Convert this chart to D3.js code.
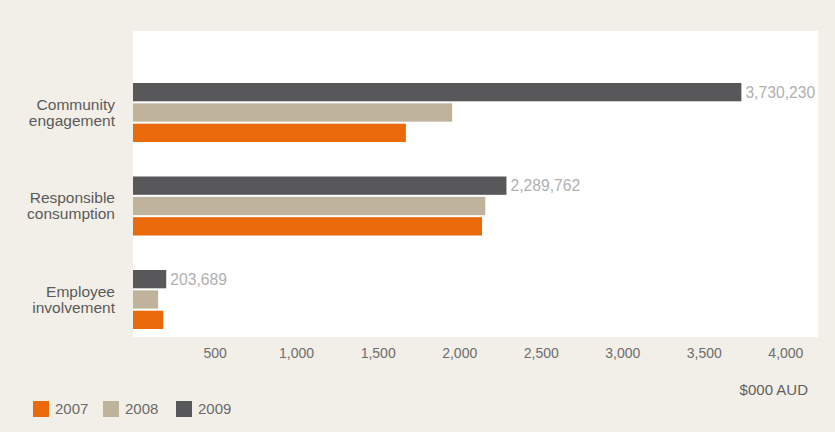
<!DOCTYPE html>
<html>
<head>
<meta charset="utf-8">
<script src="https://cdn.jsdelivr.net/npm/d3@7"></script>
<style>
  html, body { margin: 0; padding: 0; background: #f2efe8; }
  svg { display: block; }
  text { font-family: "Liberation Sans", Arial, Helvetica, sans-serif; }
</style>
</head>
<body>
<svg id="chart" width="835" height="432"></svg>
<script>
// Spending by program area, $000 AUD
const categories = [
  ["Community", "engagement"],
  ["Responsible", "consumption"],
  ["Employee", "involvement"]
];
const categoryKeys = ["community", "responsible", "employee"];
const years = ["2009", "2008", "2007"];
const legendYears = ["2007", "2008", "2009"];
const values2009 = [3730.230, 2289.762, 203.689];
const values2008 = [1957, 2160, 154];
const values2007 = [1673, 2140, 185];
const valueLabels2009 = ["3,730,230", "2,289,762", "203,689"];
const tickValues = [500, 1000, 1500, 2000, 2500, 3000, 3500, 4000];
const unitLabel = "$000 AUD";

const colors = { "2007": "#ea690b", "2008": "#bfb39c", "2009": "#58585a" };
const seriesByYear = { "2009": values2009, "2008": values2008, "2007": values2007 };

const svg = d3.select("#chart");
const plot = { left: 133, right: 818, top: 31, bottom: 337 };

svg.append("rect")
  .attr("width", 835).attr("height", 432)
  .attr("fill", "#f2efe8");

svg.append("rect")
  .attr("x", plot.left).attr("y", plot.top)
  .attr("width", plot.right - plot.left)
  .attr("height", plot.bottom - plot.top)
  .attr("fill", "#ffffff");

const x = d3.scaleLinear()
  .domain([0, 4200])
  .range([plot.left, plot.right]);

const y = d3.scaleBand()
  .domain(categoryKeys)
  .range([65.75, 346.25])
  .paddingInner(0.369)
  .paddingOuter(0.1845);

const yInner = d3.scaleBand()
  .domain(years)
  .range([0, y.bandwidth()])
  .paddingInner(0.1);

const groups = svg.append("g").selectAll("g")
  .data(categoryKeys)
  .join("g")
  .attr("transform", d => `translate(0,${y(d)})`);

groups.selectAll("rect")
  .data((d, i) => years.map(yr => ({ year: yr, value: seriesByYear[yr][i] })))
  .join("rect")
  .attr("x", x(0))
  .attr("y", d => yInner(d.year))
  .attr("width", d => x(d.value) - x(0))
  .attr("height", yInner.bandwidth())
  .attr("fill", d => colors[d.year]);

// value labels on the 2009 bars
groups.append("text")
  .attr("x", (d, i) => x(values2009[i]) + 4)
  .attr("y", yInner("2009") + yInner.bandwidth() / 2)
  .attr("dy", "0.35em")
  .attr("font-size", "15.7px")
  .attr("fill", "#b0b0b0")
  .text((d, i) => valueLabels2009[i]);

// category labels
const catLabels = svg.append("g").selectAll("text")
  .data(categoryKeys)
  .join("text")
  .attr("text-anchor", "end")
  .attr("font-size", "15.5px")
  .attr("fill", "#5a5a5a")
  .attr("transform", d => `translate(115,${y(d) + y.bandwidth() / 2})`);

catLabels.each(function(d, i) {
  const t = d3.select(this);
  categories[i].forEach((line, j) => {
    t.append("tspan")
      .attr("x", 0)
      .attr("y", (j - 0.5) * 16)
      .attr("dy", "0.35em")
      .text(line);
  });
});

// x axis labels
const xAxis = d3.axisBottom(x)
  .tickValues(tickValues)
  .tickFormat(d3.format(","))
  .tickSize(0)
  .tickPadding(0);

const axisG = svg.append("g")
  .attr("transform", `translate(0,348)`)
  .call(xAxis);
axisG.select(".domain").remove();
axisG.selectAll("text")
  .attr("font-family", "\"Liberation Sans\", Arial, sans-serif")
  .attr("font-size", "14px")
  .attr("fill", "#6d6d6d");

svg.append("text")
  .attr("x", 808).attr("y", 395)
  .attr("text-anchor", "end")
  .attr("font-size", "15px")
  .attr("fill", "#5f5f5f")
  .text(unitLabel);

// legend
const legendX = [33, 103, 176];
const legend = svg.append("g").selectAll("g")
  .data(legendYears)
  .join("g")
  .attr("transform", (d, i) => `translate(${legendX[i]},401)`);

legend.append("rect")
  .attr("width", 16).attr("height", 16)
  .attr("fill", d => colors[d]);

legend.append("text")
  .attr("x", 22).attr("y", 8)
  .attr("dy", "0.35em")
  .attr("font-size", "15px")
  .attr("fill", "#6a6a6a")
  .text(d => d);
</script>
</body>
</html>
